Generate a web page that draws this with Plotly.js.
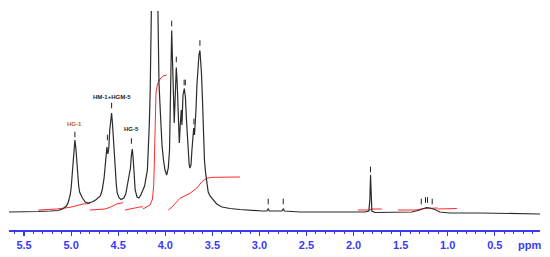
<!DOCTYPE html>
<html>
<head>
<meta charset="utf-8">
<script src="https://cdn.plot.ly/plotly-3.0.1.min.js"></script>
<style>
  html, body { margin: 0; padding: 0; background: #fff; }
  #nmr { width: 550px; height: 257px; }
</style>
</head>
<body>
<div id="nmr"></div>
<script>
// 1H NMR trace (ppm, relative intensity)
var specPpm = [5.66, 5.54, 5.35, 5.22, 5.14, 5.09, 5.05, 5.03, 5.01, 5.00, 4.99, 4.98, 4.97, 4.96, 4.95, 4.94, 4.93, 4.92, 4.91, 4.88,
  4.85, 4.82, 4.78, 4.74, 4.69, 4.67, 4.65, 4.64, 4.63, 4.62, 4.61, 4.60, 4.59, 4.58, 4.57, 4.56, 4.545, 4.53, 4.52, 4.51,
  4.49, 4.47, 4.44, 4.42, 4.40, 4.37, 4.36, 4.35, 4.34, 4.33, 4.32, 4.30, 4.28, 4.26, 4.24, 4.22, 4.19, 4.18, 4.17, 4.16,
  4.15, 4.146, 4.115, 4.084, 4.075, 4.067, 4.051, 4.035, 4.019, 4.003, 3.985, 3.968, 3.955, 3.947, 3.940, 3.932, 3.924, 3.913, 3.905, 3.894,
  3.883, 3.874, 3.862, 3.851, 3.841, 3.830, 3.823, 3.812, 3.798, 3.786, 3.775, 3.759, 3.746, 3.738, 3.727, 3.717, 3.706, 3.698, 3.690, 3.682,
  3.674, 3.664, 3.653, 3.642, 3.632, 3.623, 3.616, 3.605, 3.594, 3.584, 3.573, 3.561, 3.544, 3.525, 3.494, 3.454, 3.398, 3.313, 3.207, 3.101,
  2.973, 2.920, 2.907, 2.894, 2.761, 2.747, 2.735, 2.570, 2.252, 1.880, 1.838, 1.827, 1.820, 1.813, 1.806, 1.774, 1.508, 1.381, 1.317, 1.275,
  1.225, 1.190, 1.137, 1.084, 0.978, 0.659, 0.341, 0.02];
var specInt = [0.5, 0.5, 1, 1.5, 2, 3.5, 6.5, 10.5, 17.5, 24.5, 34.5, 47.5, 62.5, 72.5, 64.5, 50.5, 36.5, 26.5, 20.5, 14.5,
  10.5, 9.5, 10.5, 12.5, 16.5, 22.5, 34.5, 44.5, 57.5, 65.5, 58.5, 64.5, 82.5, 94.5, 99.5, 87.5, 62.5, 40.5, 27.5, 19.5,
  14.5, 13, 14.5, 18.5, 27.5, 44.5, 57.5, 63.5, 52.5, 34.5, 22.5, 15.5, 14.5, 17.5, 22.5, 26.5, 42.5, 62.5, 87.5, 122.5,
  162.5, 240, 420, 240, 172.5, 129.5, 97.5, 67.5, 52.5, 42.5, 37.5, 44.5, 62.5, 92.5, 142.5, 182, 162, 117.5, 89.5, 117.5,
  145, 130, 92.5, 69.5, 87.5, 102.5, 87.5, 117.5, 124, 115, 92.5, 62.5, 47.5, 44.5, 47.5, 62.5, 74.5, 84.5, 77.5, 87.5,
  102.5, 127.5, 150, 158, 162, 152, 140, 112.5, 79.5, 52.5, 40.5, 32.5, 20.5, 16.5, 12.5, 8.5, 5.5, 4, 3, 2,
  1.5, 1.5, 3.5, 1.5, 1.5, 3.5, 1.5, 0.5, 0.5, 0.5, 1.5, 12.5, 37.5, 17.5, 1.5, 0, 0, 0.5, 2, 3.5,
  5, 4.5, 3, 0.5, -0.5, -0.5, -1, -1.5];

// integral curves (red)
var integPpm = [
  [5.348, 5.153, 5.012, 4.924, 4.871, 4.800],
  [4.800, 4.640, 4.587, 4.516, 4.446],
  [4.428, 4.357, 4.287, 4.237],
  [4.237, 4.194, 4.162, 4.136, 4.123, 4.117, 4.111, 4.106, 4.099, 4.083, 4.056, 4.022, 3.985],
  [3.968, 3.929, 3.844, 3.773, 3.738, 3.667, 3.614, 3.578, 3.547, 3.491, 3.207],
  [1.954, 1.838, 1.806, 1.700],
  [1.530, 1.339, 1.254, 1.169, 1.105],
  [1.105, 0.903]
];
var integVal = [
  [2.5, 3.5, 5.2, 6.8, 8.5, 9],
  [2.5, 3.5, 5.2, 8.5, 9.8],
  [2.5, 4.2, 5.2, 5.8],
  [3.5, 5.5, 7.5, 13.5, 27.5, 47.5, 77.5, 102.5, 119.5, 128.5, 133.5, 136.5, 137.5],
  [2.5, 5.5, 14.2, 17.5, 19.2, 24.2, 30.5, 33.2, 34.5, 35.2, 35.5],
  [2.5, 2.5, 3.5, 3.5],
  [2.5, 2.5, 4, 4.5, 4.5],
  [3.5, 4]
];

// peak-pick marks
var pickPpm = [4.96, 4.615, 4.57, 4.36, 3.932, 3.883, 3.800, 3.787, 3.696, 3.632, 2.907, 2.747, 1.820, 1.281, 1.236, 1.215, 1.165];
var pickInt = [78, 75, 107, 71.5, 189, 153, 130, 130, 91, 169.5, 11, 11, 43, 11, 12.5, 12.5, 11];

var labelText = ["HG-1", "HM-1+HGM-5", "HG-5"];
var labelPpm = [4.96, 4.57, 4.36];
var labelInt = [88.5, 116, 83.5];
var labelColor = ["#b8641e", "#222", "#222"];

var xTicks = [5.5, 5.0, 4.5, 4.0, 3.5, 3.0, 2.5, 2.0, 1.5, 1.0, 0.5];
var xTickText = ["5.5", "5.0", "4.5", "4.0", "3.5", "3.0", "2.5", "2.0", "1.5", "1.0", "0.5"];

var blue = "#3a3af5";
var data = [];
for (var i = 0; i < integPpm.length; i++) {
  data.push({
    x: integPpm[i], y: integVal[i], type: "scatter", mode: "lines",
    line: {color: "#ff2a2a", width: 1}, hoverinfo: "skip"
  });
}
data.push({
  x: specPpm, y: specInt, type: "scatter", mode: "lines",
  line: {color: "#2b2b2b", width: 1.2}
});
data.push({
  x: pickPpm, y: pickInt, type: "scatter", mode: "markers",
  marker: {symbol: "line-ns-open", size: 4, color: "#222", line: {color: "#222", width: 1}}
});

var annotations = labelText.map(function (t, k) {
  return {
    x: labelPpm[k], y: labelInt[k], text: t, showarrow: false,
    font: {family: "Liberation Sans", size: 6, color: labelColor[k], weight: "bold"}
  };
});
annotations.push({
  x: 0.13, y: 0, xref: "x", yref: "paper", yanchor: "top", yshift: -7,
  text: "ppm", showarrow: false,
  font: {family: "Liberation Sans", size: 11, color: blue, weight: "bold"}
});

var layout = {
  width: 550, height: 257,
  margin: {l: 9, r: 10, t: 11, b: 27},
  paper_bgcolor: "#fff", plot_bgcolor: "#fff",
  showlegend: false,
  xaxis: {
    range: [5.66, 0.02],
    tickvals: xTicks, ticktext: xTickText,
    ticks: "outside", ticklen: 4, tickwidth: 1.2, tickcolor: blue,
    showline: true, linecolor: blue, linewidth: 1.5,
    showgrid: false, zeroline: false,
    tickfont: {family: "Liberation Sans", size: 11, color: blue, weight: "bold"},
    minor: {dtick: 0.1, ticks: "outside", ticklen: 2, tickcolor: blue, tickwidth: 1, showgrid: false}
  },
  yaxis: {range: [-17.5, 201.5], visible: false, showgrid: false, zeroline: false},
  annotations: annotations
};

Plotly.newPlot("nmr", data, layout, {displayModeBar: false, staticPlot: true});
</script>
</body>
</html>
